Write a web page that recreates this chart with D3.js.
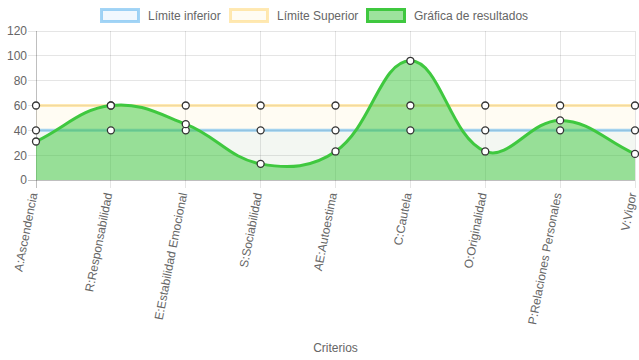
<!DOCTYPE html>
<html><head><meta charset="utf-8">
<script src="https://cdn.jsdelivr.net/npm/d3@7"></script>
<style>body{margin:0;background:#fff}svg{display:block;font-family:"Liberation Sans",Arial,Helvetica,sans-serif}</style>
</head><body>
<svg id="c" width="639" height="360"></svg>
<script>
const categories = ["A:Ascendencia","R:Responsabilidad","E:Estabilidad Emocional","S:Sociabilidad","AE:Autoestima","C:Cautela","O:Originalidad","P:Relaciones Personales","V:Vigor"];
const limiteInferior = [40,40,40,40,40,40,40,40,40];
const limiteSuperior = [60,60,60,60,60,60,60,60,60];
const resultados = [31,60,45,13,23,96,23,48,21];
const yTicks = [0,20,40,60,80,100,120];
const seriesNames = ["Límite inferior","Límite Superior","Gráfica de resultados"];

const svg = d3.select("#c");
const L = 36, R = 635, T = 31, B = 180;
const x = d3.scalePoint().domain(categories).range([L, R]);
const y = d3.scaleLinear().domain([0,120]).range([B, T]);

// gridlines
const g = svg.append("g");
yTicks.forEach(t => {
  g.append("line").attr("x1", L-8).attr("x2", R).attr("y1", y(t)).attr("y2", y(t))
   .attr("stroke", t===0 ? "rgba(0,0,0,0.25)" : "rgba(0,0,0,0.1)").attr("stroke-width",1).attr("shape-rendering","crispEdges");
});
categories.forEach((c,i) => {
  g.append("line").attr("x1", x(c)).attr("x2", x(c)).attr("y1", T).attr("y2", B+8)
   .attr("stroke", i===0 ? "rgba(0,0,0,0.25)" : "rgba(0,0,0,0.1)").attr("stroke-width",1).attr("shape-rendering","crispEdges");
});

// y tick labels
const yAxis = d3.axisLeft(y).tickValues(yTicks).tickSize(0).tickPadding(0);
const ya = svg.append("g").attr("transform", `translate(${L-9},0)`).call(yAxis);
ya.select(".domain").remove();
ya.selectAll("text").attr("fill","#666").style("font-size","12px").style("font-family","'Liberation Sans',Arial,sans-serif");

// x tick labels
const xAxis = d3.axisBottom(x).tickSize(0).tickPadding(0);
const xa = svg.append("g").attr("transform", `translate(0,${B+9})`).call(xAxis);
xa.select(".domain").remove();
xa.selectAll("text").attr("fill","#666").style("font-size","12px").style("font-family","'Liberation Sans',Arial,sans-serif")
  .attr("text-anchor","end").attr("dy","0.25em").attr("dx","0")
  .attr("transform","translate(-2,4) rotate(-79)").attr("x",0).attr("y",0);

svg.append("text").attr("x", (L+R)/2).attr("y", 352).attr("text-anchor","middle")
  .attr("fill","#666").style("font-size","12px").text("Criterios");

// Chart.js-like spline
function splinePath(vals, tension) {
  const pts = vals.map((v,i) => ({x: x(categories[i]), y: y(v)}));
  const cps = pts.map((p,i) => {
    const prev = pts[i-1] || p, next = pts[i+1] || p;
    const d01 = Math.hypot(p.x-prev.x, p.y-prev.y), d12 = Math.hypot(next.x-p.x, next.y-p.y);
    let s01 = d01/(d01+d12), s12 = d12/(d01+d12);
    if (isNaN(s01)) s01 = 0; if (isNaN(s12)) s12 = 0;
    const fa = tension*s01, fb = tension*s12;
    const cap = (v,a,b) => Math.max(a, Math.min(b, v));
    return {
      px: cap(p.x - fa*(next.x-prev.x), L, R), py: cap(p.y - fa*(next.y-prev.y), T, B),
      nx: cap(p.x + fb*(next.x-prev.x), L, R), ny: cap(p.y + fb*(next.y-prev.y), T, B)
    };
  });
  const path = d3.path();
  path.moveTo(pts[0].x, pts[0].y);
  for (let i=1;i<pts.length;i++) {
    path.bezierCurveTo(cps[i-1].nx, cps[i-1].ny, cps[i].px, cps[i].py, pts[i].x, pts[i].y);
  }
  const line = path.toString();
  const area = line + `L${pts[pts.length-1].x},${y(0)}L${pts[0].x},${y(0)}Z`;
  return {line, area, pts};
}

const datasets = [
  {vals: limiteSuperior, stroke:"rgba(255,206,86,0.45)", fill:"rgba(255,206,86,0.07)"},
  {vals: limiteInferior, stroke:"rgba(54,162,235,0.45)", fill:"rgba(54,162,235,0.06)"},
  {vals: resultados, stroke:"#3fc83f", fill:"rgba(60,200,60,0.5)"}
];
const allPts = [];
datasets.forEach(ds => {
  const s = splinePath(ds.vals, 0.4);
  svg.append("path").attr("d", s.area).attr("fill", ds.fill);
  svg.append("path").attr("d", s.line).attr("fill","none").attr("stroke", ds.stroke).attr("stroke-width",3);
  allPts.push(s.pts);
});
allPts.forEach(pts => {
  svg.append("g").selectAll("circle").data(pts).join("circle")
    .attr("cx", d=>d.x).attr("cy", d=>d.y).attr("r", 3.5)
    .attr("fill","#fff").attr("stroke","#333").attr("stroke-width",1.3);
});

// legend
const legend = [
  {name: seriesNames[0], fill:"rgba(54,162,235,0.07)", stroke:"rgba(54,162,235,0.45)", x:100},
  {name: seriesNames[1], fill:"rgba(255,206,86,0.07)", stroke:"rgba(255,206,86,0.45)", x:229},
  {name: seriesNames[2], fill:"rgba(60,200,60,0.5)", stroke:"#3fc83f", x:366}
];
legend.forEach(l => {
  svg.append("rect").attr("x", l.x+1.5).attr("y", 9.5).attr("width", 40-3).attr("height", 12)
    .attr("fill", l.fill).attr("stroke", l.stroke).attr("stroke-width",3);
  svg.append("text").attr("x", l.x+48).attr("y", 19.5).attr("fill","#666").style("font-size","12px").text(l.name);
});
</script>
</body></html>
